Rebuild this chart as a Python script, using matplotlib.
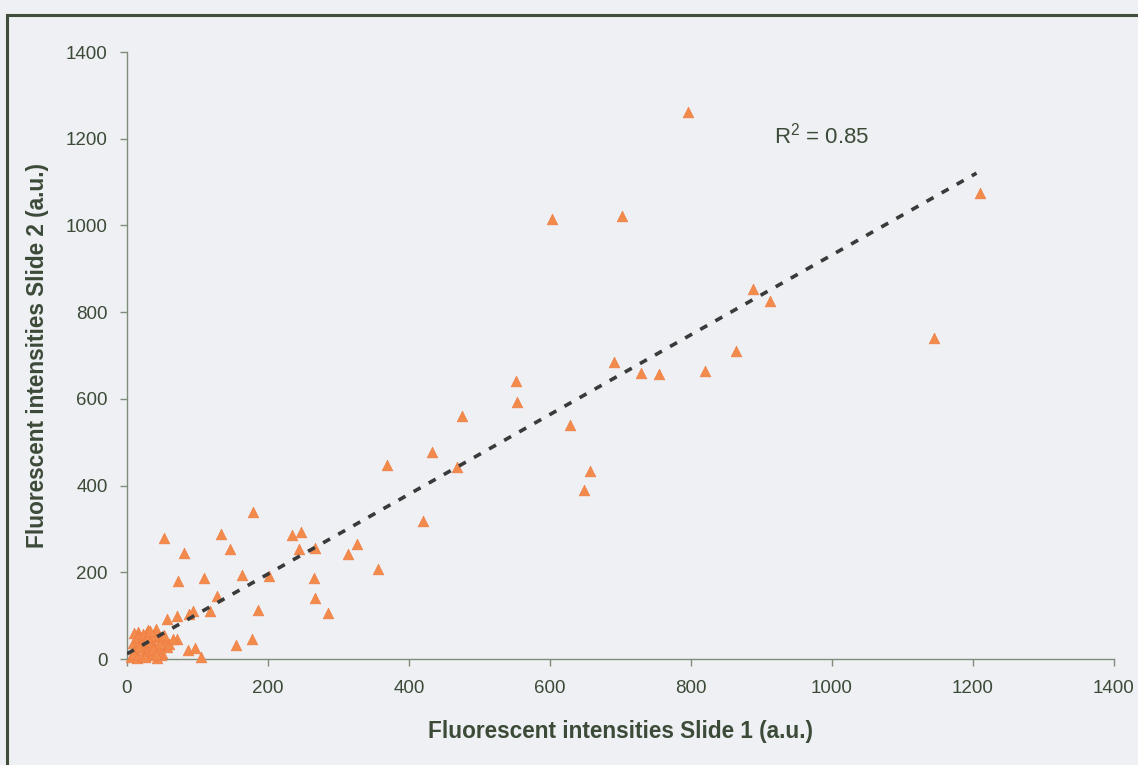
import matplotlib
matplotlib.use("Agg")
import matplotlib.pyplot as plt
from matplotlib.patches import Rectangle

plt.rcParams['font.family'] = ['Liberation Sans', 'DejaVu Sans']

# Data
slide1 = [796, 1210, 603, 702, 888, 912, 1145, 864, 691, 729, 755, 820,
          552, 553, 475, 628, 433, 369, 468, 657, 648, 420,
          179, 52, 133, 81, 146, 234, 247, 244, 267, 326, 313, 356,
          72, 109, 163, 201, 265, 267, 285, 128, 186, 118, 94, 88, 71, 57,
          71, 155, 177, 87, 96, 105, 57,
          41, 28, 16, 9, 12, 20, 25, 30, 33, 36, 40, 45, 48, 52, 5, 8,
          14, 18, 22, 26, 30, 34, 38, 42, 46, 50, 55, 10, 24, 32, 44, 60, 65,
          15, 19, 23, 27, 31, 35, 39, 43, 47, 21, 29, 37, 17, 33, 41, 25, 53]
slide2 = [1262, 1075, 1015, 1022, 853, 826, 740, 710, 685, 660, 657, 664,
          641, 593, 560, 540, 477, 447, 443, 434, 390, 318,
          339, 279, 288, 244, 254, 286, 293, 254, 256, 265, 242, 208,
          180, 187, 194, 191, 187, 141, 106, 145, 113, 111, 111, 104, 99, 92,
          46, 32, 46, 21, 25, 5, 28,
          69, 62, 62, 37, 20, 48, 30, 55, 15, 40, 25, 50, 10, 35, 5, 12,
          2, 28, 45, 8, 66, 20, 52, 3, 30, 14, 40, 60, 6, 22, 18, 35, 45,
          50, 35, 58, 18, 42, 10, 55, 25, 36, 8, 48, 22, 28, 64, 12, 4, 55]

trend_slope = 0.92
trend_intercept = 12.0
trend_x = [0, 1205]
r2_label = "R$^{\\mathregular{2}}$ = 0.85"

xticks = [0, 200, 400, 600, 800, 1000, 1200, 1400]
yticks = [0, 200, 400, 600, 800, 1000, 1200, 1400]

bg = '#eef0f3'
txt = '#3c4a38'
spine = '#808c7a'

fig = plt.figure(figsize=(11.38, 7.65), dpi=100, facecolor=bg)
W, H = 1138, 765
# frame (left/top visible, rest runs off the image)
fig.patches.append(Rectangle((7 / W, -0.05), 1.1, 1 - 15 / H + 0.05,
                             transform=fig.transFigure, fill=False,
                             edgecolor='#3f4d3a', linewidth=2.2))

ax = fig.add_axes([127 / W, 1 - 659 / H, (1114 - 127) / W, (659 - 52) / H])
ax.set_facecolor(bg)
ax.set_xlim(0, 1400)
ax.set_ylim(0, 1400)
ax.set_xticks(xticks)
ax.set_yticks(yticks)
for s in ['top', 'right']:
    ax.spines[s].set_visible(False)
for s in ['left', 'bottom']:
    ax.spines[s].set_color(spine)
    ax.spines[s].set_linewidth(1.0)
ax.tick_params(axis='both', colors=spine, labelcolor=txt, labelsize=13.5,
               length=5, width=1, direction='out')
ax.tick_params(axis='x', pad=10)
ax.tick_params(axis='y', pad=9)

ax.scatter(slide1, slide2, marker='^', s=60, color='#f28a4c',
           edgecolors='#f07a40', linewidths=0.4, zorder=3, clip_on=False)

ty = [trend_slope * v + trend_intercept for v in trend_x]
ax.plot(trend_x, ty, color='#3a3a3a', linestyle=(0, (2.2, 2.6)),
        linewidth=2.6, zorder=4)

ax.text(985, 1208, r2_label, fontsize=16, color=txt, ha='center', va='center')

ax.set_xlabel("Fluorescent intensities Slide 1 (a.u.)", fontsize=16.3,
              fontweight='bold', color=txt, labelpad=17)
ax.set_ylabel("Fluorescent intensities Slide 2 (a.u.)", fontsize=16.3,
              fontweight='bold', color=txt, labelpad=12)

fig.savefig("out.png", dpi=100, facecolor=bg)
